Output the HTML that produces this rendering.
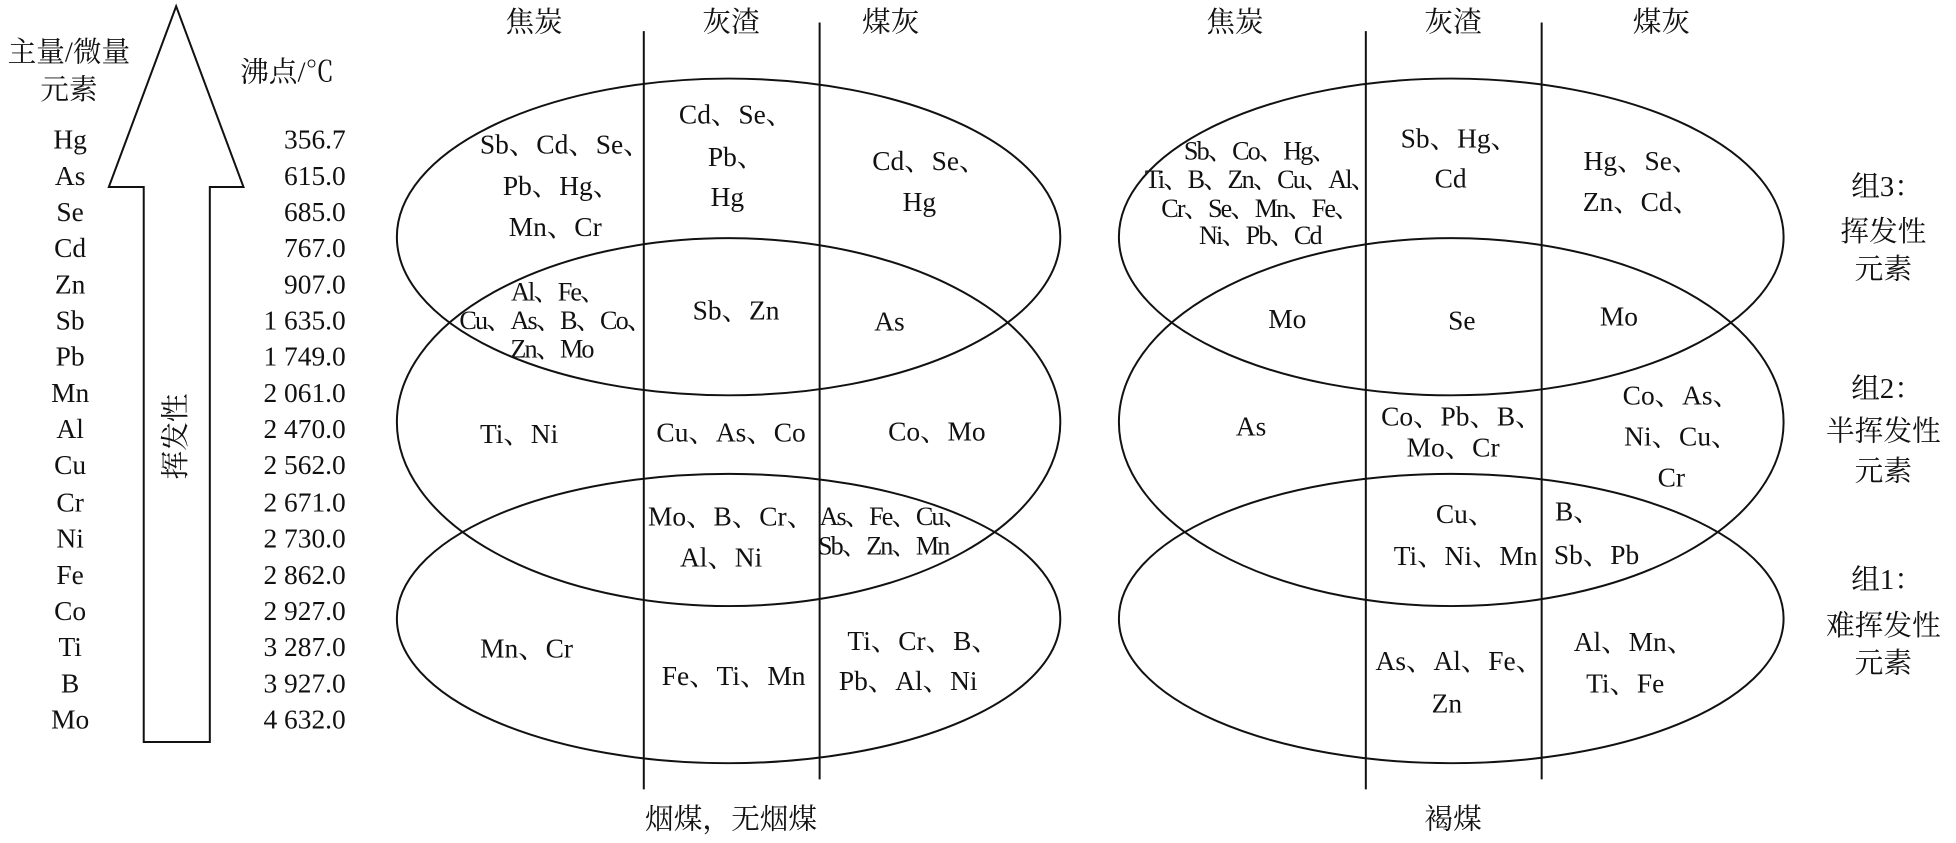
<!DOCTYPE html>
<html><head><meta charset="utf-8"><style>
html,body{margin:0;padding:0;background:#fff;}
svg{display:block;}
text{font-family:"Liberation Serif","Noto Serif CJK SC","Noto Sans CJK SC",serif;fill:#111;dominant-baseline:central;text-anchor:middle;}
.e{font-size:22px;}
.d{font-size:21px;letter-spacing:-1.5px;}
.h{font-size:23px;}
.n{text-anchor:end;}
</style></head><body>
<svg width="1956" height="843" viewBox="0 0 1568 676" xmlns="http://www.w3.org/2000/svg">
<g fill="none" stroke="#111" stroke-width="1.6">
<polygon points="141,5 195,150 168,150 168,595 115,595 115,150 87,150"/>
<ellipse cx="584" cy="190" rx="266" ry="127"/>
<ellipse cx="584" cy="338.5" rx="266" ry="147.5"/>
<ellipse cx="584" cy="496" rx="266" ry="116"/>
<ellipse cx="1163.5" cy="190" rx="266.5" ry="127"/>
<ellipse cx="1163.5" cy="338.5" rx="266.5" ry="147.5"/>
<ellipse cx="1163.5" cy="496" rx="266.5" ry="116"/>
<line x1="516" y1="25" x2="516" y2="633"/>
<line x1="657" y1="18" x2="657" y2="625"/>
<line x1="1095" y1="25" x2="1095" y2="633"/>
<line x1="1236" y1="18" x2="1236" y2="625"/>
</g>
<text class="h" x="55" y="42">主量/微量</text>
<text class="h" x="55" y="72">元素</text>
<text class="h" x="230" y="58">沸点/℃</text>
<text class="h" transform="translate(141,350) rotate(-90)">挥发性</text>
<g class="e">
<text x="56" y="112">Hg</text><text x="56" y="141">As</text><text x="56" y="170">Se</text><text x="56" y="199">Cd</text><text x="56" y="228">Zn</text><text x="56" y="257">Sb</text><text x="56" y="286">Pb</text><text x="56" y="315">Mn</text><text x="56" y="344">Al</text><text x="56" y="373">Cu</text><text x="56" y="403">Cr</text><text x="56" y="432">Ni</text><text x="56" y="461">Fe</text><text x="56" y="490">Co</text><text x="56" y="519">Ti</text><text x="56" y="548">B</text><text x="56" y="577">Mo</text>
</g>
<g class="e">
<text class="n" x="277" y="112">356.7</text><text class="n" x="277" y="141">615.0</text><text class="n" x="277" y="170">685.0</text><text class="n" x="277" y="199">767.0</text><text class="n" x="277" y="228">907.0</text><text class="n" x="277" y="257">1 635.0</text><text class="n" x="277" y="286">1 749.0</text><text class="n" x="277" y="315">2 061.0</text><text class="n" x="277" y="344">2 470.0</text><text class="n" x="277" y="373">2 562.0</text><text class="n" x="277" y="403">2 671.0</text><text class="n" x="277" y="432">2 730.0</text><text class="n" x="277" y="461">2 862.0</text><text class="n" x="277" y="490">2 927.0</text><text class="n" x="277" y="519">3 287.0</text><text class="n" x="277" y="548">3 927.0</text><text class="n" x="277" y="577">4 632.0</text>
</g>
<g class="h">
<text x="428" y="18">焦炭</text><text x="586" y="18">灰渣</text><text x="714" y="18">煤灰</text>
<text x="990" y="18">焦炭</text><text x="1165" y="18">灰渣</text><text x="1332" y="18">煤灰</text>
<text x="586" y="657">烟煤，无烟煤</text><text x="1165" y="657">褐煤</text>
<text x="1513" y="150">组3：</text><text x="1510" y="186">挥发性</text><text x="1510" y="216">元素</text>
<text x="1513" y="312">组2：</text><text x="1510" y="346">半挥发性</text><text x="1510" y="378">元素</text>
<text x="1513" y="465">组1：</text><text x="1510" y="502">难挥发性</text><text x="1510" y="532">元素</text>
</g>
<g class="e">
<text x="453" y="116">Sb、Cd、Se、</text><text x="450" y="149">Pb、Hg、</text><text x="445" y="182">Mn、Cr</text>
<text x="590" y="92">Cd、Se、</text><text x="590" y="126">Pb、</text><text x="583" y="158">Hg</text>
<text x="745" y="129">Cd、Se、</text><text x="737" y="162">Hg</text>
<text x="590" y="249">Sb、Zn</text><text x="713" y="258">As</text>
<text x="416" y="348">Ti、Ni</text><text x="586" y="347">Cu、As、Co</text><text x="751" y="346">Co、Mo</text>
<text x="586" y="414">Mo、B、Cr、</text><text x="578" y="447">Al、Ni</text>
<text x="422" y="520">Mn、Cr</text><text x="588" y="542">Fe、Ti、Mn</text>
<text x="740" y="514">Ti、Cr、B、</text><text x="728" y="546">Pb、Al、Ni</text>
<text x="1170" y="111">Sb、Hg、</text><text x="1163" y="143">Cd</text>
<text x="1316" y="129">Hg、Se、</text><text x="1316" y="162">Zn、Cd、</text>
<text x="1032" y="256">Mo</text><text x="1172" y="257">Se</text><text x="1298" y="254">Mo</text>
<text x="1003" y="342">As</text><text x="1172" y="334">Co、Pb、B、</text><text x="1165" y="359">Mo、Cr</text>
<text x="1348" y="317">Co、As、</text><text x="1348" y="350">Ni、Cu、</text><text x="1340" y="383">Cr</text>
<text x="1175" y="412">Cu、</text><text x="1175" y="446">Ti、Ni、Mn</text>
<text x="1265" y="410">B、</text><text x="1280" y="445">Sb、Pb</text>
<text x="1170" y="530">As、Al、Fe、</text><text x="1160" y="564">Zn</text>
<text x="1310" y="515">Al、Mn、</text><text x="1303" y="548">Ti、Fe</text>
</g>
<g class="d">
<text x="447" y="234">Al、Fe、</text><text x="445" y="257">Cu、As、B、Co、</text><text x="442" y="280">Zn、Mo</text>
<text x="716" y="414">As、Fe、Cu、</text><text x="708" y="438">Sb、Zn、Mn</text>
<text x="1010" y="121">Sb、Co、Hg、</text><text x="1010" y="144">Ti、B、Zn、Cu、Al、</text><text x="1010" y="167">Cr、Se、Mn、Fe、</text><text x="1010" y="189">Ni、Pb、Cd</text>
</g>
</svg>
</body></html>
